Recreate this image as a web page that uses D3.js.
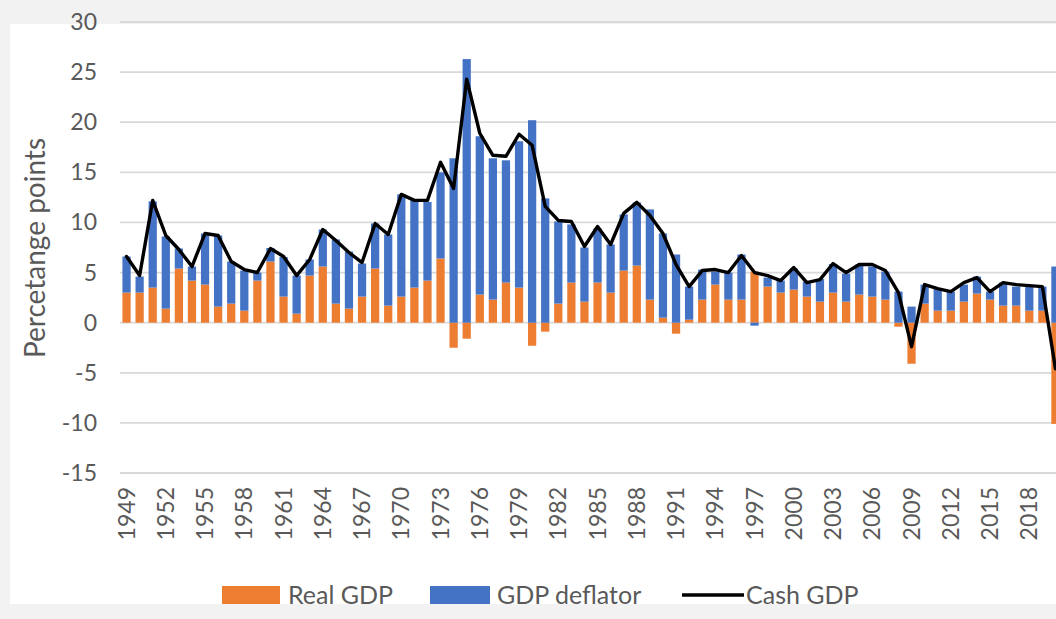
<!DOCTYPE html>
<html>
<head>
<meta charset="utf-8">
<script src="https://cdn.jsdelivr.net/npm/d3@7"></script>
<style>
  html, body { margin: 0; padding: 0; background: #f2f2f2; }
  svg { display: block; }
  text { font-family: Lato, "Open Sans", sans-serif; fill: #595959; }
</style>
</head>
<body>
<svg id="chart" width="1056" height="619"></svg>
<script>
const years = ["1949","1950","1951","1952","1953","1954","1955","1956","1957","1958",
  "1959","1960","1961","1962","1963","1964","1965","1966","1967","1968",
  "1969","1970","1971","1972","1973","1974","1975","1976","1977","1978",
  "1979","1980","1981","1982","1983","1984","1985","1986","1987","1988",
  "1989","1990","1991","1992","1993","1994","1995","1996","1997","1998",
  "1999","2000","2001","2002","2003","2004","2005","2006","2007","2008",
  "2009","2010","2011","2012","2013","2014","2015","2016","2017","2018",
  "2019","2020"];

const realGDP = [3.0,3.0,3.5,1.4,5.4,4.2,3.8,1.6,1.9,1.2,
  4.2,6.1,2.6,0.9,4.7,5.6,1.9,1.4,2.6,5.4,
  1.7,2.6,3.5,4.2,6.4,-2.5,-1.6,2.8,2.3,4.0,
  3.5,-2.3,-0.9,1.9,4.0,2.1,4.0,3.0,5.2,5.7,
  2.3,0.5,-1.1,0.3,2.3,3.8,2.3,2.3,5.1,3.6,
  3.0,3.3,2.6,2.1,3.0,2.1,2.8,2.6,2.3,-0.4,
  -4.1,1.9,1.2,1.2,2.1,2.9,2.3,1.7,1.7,1.2,
  1.2,-10.1];

const gdpDeflator = [3.6,1.6,8.6,7.2,2.0,1.4,5.1,7.1,4.2,4.0,
  0.8,1.35,3.95,3.8,1.6,3.7,6.4,5.7,3.3,4.5,
  7.1,10.2,8.7,7.85,8.6,16.4,26.3,15.8,14.1,12.2,
  14.6,20.2,12.4,8.2,5.8,5.4,5.4,4.8,5.6,6.3,
  9.0,8.4,6.8,3.3,3.0,1.3,2.7,4.5,-0.3,0.9,
  1.2,2.1,1.5,2.25,2.85,2.8,3.0,3.0,2.8,3.1,
  1.6,1.9,2.2,1.9,1.7,1.7,0.8,2.3,1.9,2.4,
  2.4,5.6];

const cashGDP = [6.6,4.7,12.2,8.7,7.3,5.6,8.9,8.7,6.1,5.3,
  5.0,7.4,6.6,4.7,6.3,9.3,8.2,7.0,6.0,9.9,
  8.8,12.8,12.2,12.2,16.0,13.4,24.3,18.9,16.7,16.6,
  18.8,17.7,11.6,10.2,10.1,7.6,9.6,7.8,10.9,12.0,
  10.7,8.9,5.8,3.6,5.2,5.3,5.0,6.7,5.0,4.7,
  4.2,5.5,4.0,4.3,5.9,5.0,5.8,5.8,5.2,3.0,
  -2.4,3.8,3.4,3.1,4.0,4.5,3.1,4.0,3.8,3.7,
  3.6,-4.6];

const yTicks = [-15,-10,-5,0,5,10,15,20,25,30];
const xTickLabels = ["1949","1952","1955","1958","1961","1964","1967","1970","1973","1976",
  "1979","1982","1985","1988","1991","1994","1997","2000","2003","2006","2009","2012","2015","2018"];

const seriesNames = ["Real GDP", "GDP deflator", "Cash GDP"];
const colors = { real: "#ED7D31", deflator: "#4472C4", cash: "#000000" };

const svg = d3.select("#chart");

// panel background
svg.append("rect").attr("x", 0).attr("y", 0).attr("width", 1056).attr("height", 619).attr("fill", "#f2f2f2");
svg.append("rect").attr("x", 10).attr("y", 24).attr("width", 1046).attr("height", 580).attr("fill", "#ffffff");

const x = d3.scaleBand().domain(years).range([120, 1062]).paddingInner(0.37).paddingOuter(0.185);
const y = d3.scaleLinear().domain([-15, 30]).range([473, 22]);

// gridlines
svg.append("g").selectAll("line").data(yTicks).join("line")
  .attr("x1", 120).attr("x2", 1062)
  .attr("y1", d => y(d)).attr("y2", d => y(d))
  .attr("stroke", "#d9d9d9").attr("stroke-width", 1.8);

// y tick labels
svg.append("g").selectAll("text").data(yTicks).join("text")
  .attr("x", 97).attr("y", d => y(d)).attr("dy", "0.35em")
  .attr("text-anchor", "end").attr("font-size", 23)
  .text(d => d);

// stacked bars
const rows = years.map((yr, i) => ({ year: yr, real: realGDP[i], deflator: gdpDeflator[i] }));
const stack = d3.stack().keys(["real", "deflator"]).offset(d3.stackOffsetDiverging);
const stacked = stack(rows);

svg.append("g").selectAll("g").data(stacked).join("g")
  .attr("fill", d => colors[d.key])
  .selectAll("rect").data(d => d).join("rect")
  .attr("x", d => x(d.data.year))
  .attr("width", x.bandwidth())
  .attr("y", d => y(Math.max(d[0], d[1])))
  .attr("height", d => Math.abs(y(d[0]) - y(d[1])));

// cash GDP line
const line = d3.line()
  .x((d, i) => x(years[i]) + x.bandwidth() / 2)
  .y(d => y(d));
svg.append("path").datum(cashGDP)
  .attr("d", line)
  .attr("fill", "none").attr("stroke", colors.cash)
  .attr("stroke-width", 3.4).attr("stroke-linejoin", "round").attr("stroke-linecap", "round");

// x labels
svg.append("g").selectAll("text").data(xTickLabels).join("text")
  .attr("transform", d => `translate(${x(d) + x.bandwidth() / 2},487) rotate(-90)`)
  .attr("dy", "0.35em")
  .attr("text-anchor", "end").attr("font-size", 23)
  .text(d => d);

// y-axis title
svg.append("text")
  .attr("transform", "translate(35,248) rotate(-90)")
  .attr("dy", "0.35em")
  .attr("text-anchor", "middle").attr("font-size", 28)
  .text("Percetange points");

// legend
const lg = svg.append("g");
lg.append("rect").attr("x", 222).attr("y", 586).attr("width", 58).attr("height", 18).attr("fill", colors.real);
lg.append("text").attr("x", 288).attr("y", 595).attr("dy", "0.35em").attr("font-size", 25).text(seriesNames[0]);
lg.append("rect").attr("x", 430).attr("y", 586).attr("width", 60).attr("height", 18).attr("fill", colors.deflator);
lg.append("text").attr("x", 497).attr("y", 595).attr("dy", "0.35em").attr("font-size", 25).text(seriesNames[1]);
lg.append("line").attr("x1", 682).attr("x2", 744).attr("y1", 595).attr("y2", 595).attr("stroke", colors.cash).attr("stroke-width", 3.4);
lg.append("text").attr("x", 746).attr("y", 595).attr("dy", "0.35em").attr("font-size", 25).text(seriesNames[2]);
</script>
</body>
</html>
